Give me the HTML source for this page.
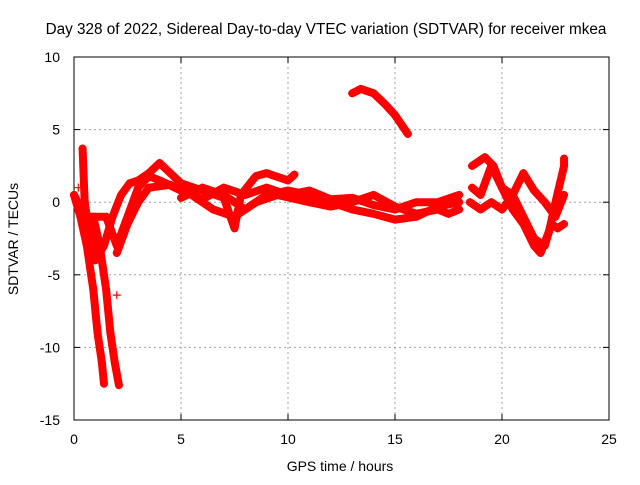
<!DOCTYPE html>
<html><head><meta charset="utf-8"><style>
html,body{margin:0;padding:0;background:#fff;}
svg text{font-family:"Liberation Sans",sans-serif;font-size:14px;fill:#000;}
</style></head><body>
<svg id="chart" width="640" height="480">
<rect width="640" height="480" fill="#fff"/>
<g id="grid"></g>
<g id="axes"></g>
<g id="series"></g>
<text x="326" y="34" text-anchor="middle" style="font-size:15.3px">Day 328 of 2022, Sidereal Day-to-day VTEC variation (SDTVAR) for receiver mkea</text>
<text x="340" y="471" text-anchor="middle">GPS time / hours</text>
<text transform="translate(18,239) rotate(-90)" text-anchor="middle">SDTVAR / TECUs</text>
</svg>
<script>
const xTicks=[0,5,10,15,20,25];
const yTicks=[10,5,0,-5,-10,-15];
const track1=[[0,0.5],[0.3,-1],[0.6,-3],[0.9,-6],[1.1,-9],[1.3,-11],[1.4,-12.5]];
const track2=[[0.9,-1],[1.2,-3],[1.5,-6],[1.7,-9],[1.9,-11],[2.1,-12.6]];
const track3=[[0.4,3.7],[0.5,0],[0.7,-2],[1.0,-4],[1.4,-3],[1.8,-1],[2.2,0.5],[2.6,1.3],[3.0,1.5],[3.5,2],[4,2.7],[4.5,2],[5,1.3],[6,0.8],[7,0.3],[7.5,-1.8],[7.8,0.5],[8.5,1.8],[9,2],[10,1.5],[10.3,1.9]];
const track4=[[0,0.5],[0.5,-1],[1.0,-1],[1.5,-1],[2.0,-3],[2.5,-1],[3,1],[3.5,1.8],[4,1.5],[5,0.8],[6,0.2],[7,1],[8,0.5],[9,1],[10,0.5],[11,0.8],[12,0.2],[13,0.3],[14,-0.2],[15,-0.5],[16,0],[17,0],[18,0.5]];
const track5=[[2,-3.5],[2.5,-1.5],[3,0],[3.5,1],[4.5,1.2],[5.5,0.5],[6.5,-0.5],[7.5,-1],[8.5,0],[9.5,0.5],[11,0],[12,-0.3],[13,0],[14,0.5],[15,-0.3],[16,-0.8],[17,-0.5],[17.5,-0.8],[18,-0.5]];
const track6=[[5,0.3],[6,1],[7,0.5],[8,-0.5],[9,0.5],[10,0.8],[11,0.5],[12,0],[13,-0.5],[14,-0.8],[15,-1.2],[16,-1],[17,-0.3],[18,0]];
const track7=[[13,7.5],[13.4,7.8],[14,7.5],[14.5,6.8],[15,6],[15.6,4.7]];
const track8=[[18.6,2.5],[19.2,3.1],[19.6,2.5],[20,1],[20.5,0.5],[21,-1],[21.5,-2.5],[22,-3],[22.3,-1.5],[22.6,-1.8],[22.9,-1.5]];
const track9=[[18.6,1],[19,0.5],[19.5,2.5],[20,1],[20.5,-0.5],[21,-1.5],[21.5,-3],[21.8,-3.5],[22.2,-2],[22.5,0],[22.9,2.5],[22.9,3]];
const track10=[[18.5,0],[19,-0.5],[19.5,0],[20,-0.5],[20.5,0.5],[21,2],[21.5,0.8],[22,0],[22.5,-1],[22.9,0.5]];
const outliers=[[2.0,-6.4],[0.2,1.0]];
const tracks=[track1,track2,track3,track4,track5,track6,track7,track8,track9,track10];

const X0=74,X1=609,Y0=420,Y1=57;
const xs=v=>X0+(v-0)/(25-0)*(X1-X0);
const ys=v=>Y0-(v+15)/(25)*(Y0-Y1);
const NS="http://www.w3.org/2000/svg";
function mk(t,a,p){const e=document.createElementNS(NS,t);for(const k in a)e.setAttribute(k,a[k]);p.appendChild(e);return e;}
const grid=document.getElementById('grid'),axes=document.getElementById('axes'),ser=document.getElementById('series');
xTicks.forEach(v=>{
  if(v>0&&v<25){const l=mk('line',{x1:xs(v),x2:xs(v),y1:Y1,y2:Y0,stroke:'#a0a0a0','stroke-dasharray':'2,3'},grid);
  }
  const t=mk('text',{x:xs(v),y:Y0+24,'text-anchor':'middle'},axes);t.textContent=v;
  
  mk('line',{x1:xs(v),x2:xs(v),y1:Y0,y2:Y0-6,stroke:'#000'},axes);
  mk('line',{x1:xs(v),x2:xs(v),y1:Y1,y2:Y1+6,stroke:'#000'},axes);
});
yTicks.forEach(v=>{
  if(v>-15&&v<10){const l=mk('line',{x1:X0,x2:X1,y1:ys(v),y2:ys(v),stroke:'#a0a0a0','stroke-dasharray':'2,3'},grid);
  }
  const t=mk('text',{x:X0-14,y:ys(v)+5,'text-anchor':'end'},axes);t.textContent=v;
  
  mk('line',{x1:X0,x2:X0+6,y1:ys(v),y2:ys(v),stroke:'#000'},axes);
  mk('line',{x1:X1,x2:X1-6,y1:ys(v),y2:ys(v),stroke:'#000'},axes);
});
const fr=mk('rect',{x:X0,y:Y1,width:X1-X0,height:Y0-Y1,fill:'none',stroke:'#000'},axes);

function plus(x,y,g){mk('path',{d:`M${x-4},${y}h8M${x},${y-4}v8`,stroke:'#f00','stroke-width':1.2},g);}
tracks.forEach((tr,i)=>{
  const g=mk('g',{},ser);
  
  
  mk('polyline',{points:tr.map(p=>xs(p[0])+','+ys(p[1])).join(' '),fill:'none',stroke:'#f00','stroke-width':8,'stroke-linejoin':'round','stroke-linecap':'round'},g);
  tr.forEach(p=>plus(xs(p[0]),ys(p[1]),g));
});
const og=mk('g',{},ser);


outliers.forEach(p=>plus(xs(p[0]),ys(p[1]),og));
</script>
</body></html>
